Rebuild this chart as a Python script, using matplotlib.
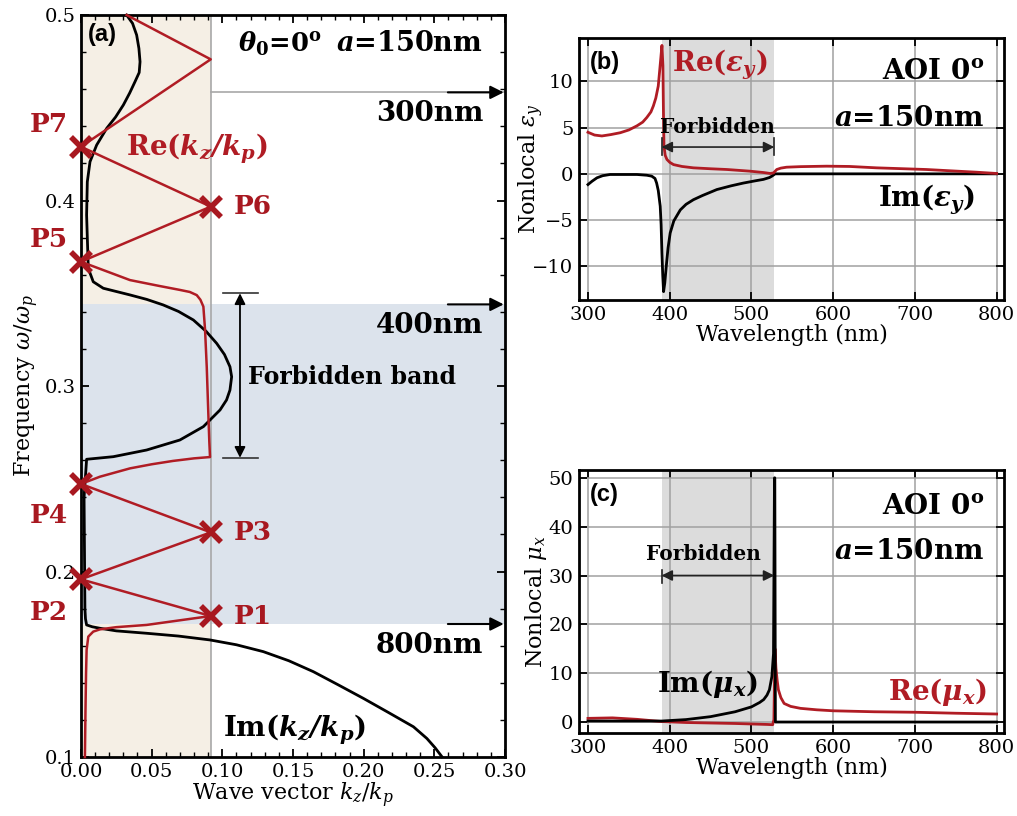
import matplotlib
matplotlib.use('Agg')
import matplotlib.pyplot as plt
from matplotlib.ticker import MultipleLocator

plt.rcParams['font.family'] = ['DejaVu Serif']
plt.rcParams['mathtext.fontset'] = 'dejavuserif'
plt.rcParams['xtick.direction'] = 'in'
plt.rcParams['ytick.direction'] = 'in'
plt.rcParams['xtick.top'] = True
plt.rcParams['ytick.right'] = True
plt.rcParams['axes.linewidth'] = 2.0
plt.rcParams['axes.unicode_minus'] = True

RED = '#b01c24'

# ---- panel (a): band structure ----
re_kz = [0.0028, 0.0032, 0.0036, 0.004, 0.0052, 0.0087, 0.0134, 0.025, 0.0465, 0.07, 0.0918,
         0.0, 0.0918, 0.0,
         0.0134, 0.0347, 0.05, 0.065, 0.08, 0.0913, 0.0908, 0.0901, 0.089, 0.0878, 0.0866,
         0.0845, 0.0819, 0.077, 0.070, 0.055, 0.0347, 0.0,
         0.0918, 0.0, 0.0918, 0.0323]
re_freq = [0.100, 0.125, 0.145, 0.1577, 0.1649, 0.1676, 0.1688, 0.1700, 0.1712, 0.1737, 0.176,
           0.1958, 0.2211, 0.2472,
           0.2511, 0.2556, 0.2578, 0.2596, 0.2610, 0.2617, 0.27, 0.2853, 0.31, 0.3302, 0.3428,
           0.3465, 0.349, 0.3507, 0.3518, 0.354, 0.3571, 0.367,
           0.3967, 0.429, 0.4761, 0.5]

im_kz = [0.2553, 0.2505, 0.2447, 0.2352, 0.2175, 0.1998, 0.182, 0.1644, 0.147, 0.129, 0.110,
         0.0913, 0.069, 0.0465, 0.025, 0.0134, 0.008, 0.004, 0.0032, 0.0028,
         0.0025, 0.0022, 0.004, 0.0229, 0.0465, 0.070, 0.0866, 0.0984, 0.1030, 0.1054, 0.1066,
         0.1054, 0.1015, 0.096, 0.0885, 0.0795, 0.0690, 0.0582, 0.0465, 0.0347, 0.0158, 0.0087,
         0.0052, 0.0045, 0.004,
         0.0045, 0.0064, 0.0111, 0.0182, 0.0245, 0.03, 0.0345, 0.0382, 0.0412, 0.0418, 0.0410,
         0.0394, 0.0365, 0.0323]
im_freq = [0.1002, 0.105, 0.110, 0.1163, 0.124, 0.1316, 0.1389, 0.146, 0.1519, 0.1568, 0.1605,
           0.1631, 0.1652, 0.1667, 0.168, 0.1694, 0.1702, 0.1712, 0.1745, 0.180,
           0.21, 0.24, 0.2605, 0.2619, 0.2655, 0.2709, 0.2781, 0.2871, 0.2925, 0.2978, 0.305,
           0.3104, 0.317, 0.323, 0.3295, 0.3356, 0.3402, 0.3437, 0.3467, 0.3491, 0.3527, 0.3562,
           0.3634, 0.38, 0.3922,
           0.4101, 0.4209, 0.4299, 0.4389, 0.445, 0.4515, 0.458, 0.464, 0.469, 0.4748, 0.482,
           0.4892, 0.4955, 0.5]

p_names = ['P1', 'P2', 'P3', 'P4', 'P5', 'P6', 'P7']
p_kz = [0.0918, 0.0, 0.0918, 0.0, 0.0, 0.0918, 0.0]
p_freq = [0.176, 0.1958, 0.2211, 0.2472, 0.367, 0.3967, 0.429]

bz_edge = 0.0918
band_top = 0.344      # 400 nm
band_bottom = 0.1717  # 800 nm
edge_freq = [0.4583, 0.344, 0.1717]
edge_labels = ['300nm', '400nm', '800nm']
gap_freq = [0.2613, 0.350]

# ---- panel (b): nonlocal epsilon_y ----
wl_eps_re = [300, 308, 317, 328, 339.5, 350, 360, 367, 372, 377, 380, 383, 386, 389, 390.5,
             391.7, 392.3, 393, 394.5, 396.6, 400, 404.7, 415, 429, 450,
             470, 498, 515, 523, 527, 531, 536, 543, 560, 592, 620, 653, 714, 775, 800]
eps_re = [4.5, 4.2, 4.1, 4.25, 4.45, 4.75, 5.2, 5.6, 6.1, 6.7, 7.35, 8.2, 9.5, 12.4, 13.9,
          11.7, 7.0, 3.0, 2.0, 1.56, 1.25, 1.0, 0.8, 0.65, 0.55,
          0.47, 0.29, 0.14, 0.04, 0.1, 0.47, 0.62, 0.72, 0.78, 0.83, 0.8, 0.65, 0.47, 0.18, 0.04]
wl_eps_im = [300, 305, 311, 318, 327, 360, 372, 378, 382, 384, 386, 388.4, 389.5, 390.5, 391.5,
             392.5, 394, 395.8, 398, 400.6, 405, 413, 420, 429, 440,
             457.7, 475, 490, 505, 514.7, 522, 525, 529, 600, 700, 800]
eps_im = [-1.16, -0.8, -0.43, -0.2, -0.07, -0.07, -0.15, -0.25, -0.5, -1.0, -1.8, -3.5, -5.5, -8.6, -11.0,
          -12.75, -11.8, -10.0, -8.0, -6.4, -5.1, -3.9, -3.3, -2.8, -2.35,
          -1.7, -1.3, -1.0, -0.75, -0.6, -0.4, -0.25, 0.0, 0.0, 0.0, 0.0]

# ---- panel (c): nonlocal mu_x ----
wl_mu_re = [300, 330, 360, 390, 420, 480, 520, 526, 527.5, 528.8, 530, 531.5, 533, 536, 540,
            548, 560, 580, 600, 650, 700, 750, 800]
mu_re = [0.75, 0.85, 0.55, 0.1, -0.1, -0.3, -0.5, -0.55, 0.5, 15.0, 11.0, 8.5, 6.6, 5.0, 3.8,
         3.2, 2.8, 2.5, 2.3, 2.1, 2.0, 1.8, 1.64]
wl_mu_im = [300, 390, 420, 450, 480, 500, 510, 515, 519, 522, 525, 527, 528.2, 528.6, 529.3,
            600, 700, 800]
mu_im = [0.2, 0.2, 0.5, 1.1, 2.1, 3.1, 4.0, 4.6, 5.5, 6.6, 9.3, 14.0, 50.0, 50.0, 0.0,
         0.0, 0.0, 0.0]

forbid = [390, 528]


def deco(ax):
    ax.tick_params(which='major', length=6, width=1.3, labelsize=14, pad=4)
    ax.tick_params(which='minor', length=3.5, width=1.0)


fig = plt.figure(figsize=(10.17, 8.16), dpi=100)

# ================= (a) =================
ax = fig.add_axes([0.0796, 0.0723, 0.417, 0.9093])
ax.set_xlim(0, 0.3)
ax.set_ylim(0.1, 0.5)
ax.axvspan(0, bz_edge, color='#f5efe5', zorder=0, lw=0)
ax.axhspan(band_bottom, band_top, color='#dce3ec', zorder=0.5, lw=0)
ax.axvline(bz_edge, color='#a8a8a8', lw=1.2, zorder=1)
ax.plot(im_kz, im_freq, color='k', lw=2, zorder=3, clip_on=False)
ax.plot(re_kz, re_freq, color=RED, lw=1.8, zorder=3, clip_on=False)
ax.plot(p_kz, p_freq, ls='none', marker='x', ms=15, mew=4, color='#a81820', zorder=5, clip_on=False)

p_side = ['r', 'l', 'r', 'l', 'l', 'r', 'l']
p_dy = [0.0, -0.018, 0.0, -0.017, 0.012, 0.0, 0.012]
for name, kz, fr, side, dy in zip(p_names, p_kz, p_freq, p_side, p_dy):
    if side == 'r':
        ax.text(kz + 0.016, fr + dy, name, color='#a81820', fontsize=19, fontweight='bold',
                ha='left', va='center')
    else:
        ax.text(-0.009, fr + dy, name, color='#a81820', fontsize=19, fontweight='bold',
                ha='right', va='center', clip_on=False)

ax.plot([bz_edge, 0.3], [edge_freq[0], edge_freq[0]], color='#a8a8a8', lw=1.2, zorder=2)
for fr, lab in zip(edge_freq, edge_labels):
    ax.annotate('', xy=(0.301, fr), xytext=(0.2576, fr),
                arrowprops=dict(arrowstyle='-|>', color='k', lw=1.5, mutation_scale=20),
                annotation_clip=False, zorder=4)
    ax.text(0.2845, fr - 0.0115, lab, fontsize=20, fontweight='bold', ha='right', va='center')

# forbidden band arrow
ax.plot([0.1005, 0.1253], [gap_freq[1], gap_freq[1]], color='#333333', lw=1.2)
ax.plot([0.1005, 0.1253], [gap_freq[0], gap_freq[0]], color='#333333', lw=1.2)
ax.annotate('', xy=(0.1125, gap_freq[1]), xytext=(0.1125, gap_freq[0]),
            arrowprops=dict(arrowstyle='<|-|>', color='k', lw=1.3, mutation_scale=16,
                            shrinkA=0, shrinkB=0))
ax.text(0.118, 0.305, 'Forbidden band', fontsize=17, fontweight='bold', ha='left', va='center')

ax.text(0.111, 0.4845, r'$\mathbfit{\theta}_{\mathbf{0}}$=0$^{\mathbf{o}}$', fontsize=18.5,
        fontweight='bold', ha='left', va='center')
ax.text(0.2845, 0.4845, r'$\mathbfit{a}$=150nm', fontsize=19.5, fontweight='bold',
        ha='right', va='center')
ax.text(0.032, 0.428, r'Re($\mathbfit{k_z/k_p}$)', color=RED, fontsize=20, fontweight='bold',
        ha='left', va='center')
ax.text(0.1005, 0.1146, r'Im($\mathbfit{k_z/k_p}$)', color='k', fontsize=20, fontweight='bold',
        ha='left', va='center')
ax.text(0.005, 0.4895, '(a)', family='Liberation Sans', fontsize=17, fontweight='bold',
        ha='left', va='center')

ax.xaxis.set_minor_locator(MultipleLocator(0.01))
ax.yaxis.set_minor_locator(MultipleLocator(0.02))
ax.set_xticks([0, 0.05, 0.10, 0.15, 0.20, 0.25, 0.30])
ax.set_xticklabels(['0.00', '0.05', '0.10', '0.15', '0.20', '0.25', '0.30'])
ax.set_yticks([0.1, 0.2, 0.3, 0.4, 0.5])
ax.set_yticklabels(['0.1', '0.2', '0.3', '0.4', '0.5'])
deco(ax)
ax.set_xlabel(r'Wave vector $k_z/k_p$', fontsize=16, labelpad=0)
ax.set_ylabel(r'Frequency $\omega/\omega_p$', fontsize=16, labelpad=2)

# ================= (b) =================
bx = fig.add_axes([0.5693, 0.6324, 0.4179, 0.321])
bx.set_xlim(289, 809)
bx.set_ylim(-13.65, 14.7)
bx.axvspan(forbid[0], forbid[1], color='#dcdcdc', lw=0, zorder=0)
bx.grid(True, color='#a0a0a0', lw=1.1)
bx.set_axisbelow(True)
bx.plot(wl_eps_im, eps_im, color='k', lw=2, zorder=3)
bx.plot(wl_eps_re, eps_re, color=RED, lw=2, zorder=3)
bx.set_xticks([300, 400, 500, 600, 700, 800])
bx.set_yticks([-10, -5, 0, 5, 10])
deco(bx)
bx.set_xlabel('Wavelength (nm)', fontsize=16, labelpad=0)
bx.set_ylabel(r'Nonlocal $\varepsilon_y$', fontsize=16, labelpad=-10)
bx.annotate('', xy=(forbid[1], 2.9), xytext=(forbid[0], 2.9),
            arrowprops=dict(arrowstyle='<|-|>', color='#222222', lw=1.2, mutation_scale=16,
                            shrinkA=0, shrinkB=0), zorder=4)
bx.plot([forbid[0], forbid[0]], [2.0, 3.9], color='#222222', lw=1.2, zorder=4)
bx.plot([forbid[1], forbid[1]], [2.0, 3.9], color='#222222', lw=1.2, zorder=4)
bx.text(459, 5.1, 'Forbidden', fontsize=14.5, fontweight='bold', ha='center', va='center', zorder=5)
bx.text(403, 11.8, r'Re($\mathbfit{\varepsilon_y}$)', color=RED, fontsize=20, fontweight='bold',
        ha='left', va='center')
bx.text(785, 11.05, r'AOI 0$^{\mathbf{o}}$', fontsize=20, fontweight='bold', ha='right', va='center')
bx.text(785, 5.96, r'$\mathbfit{a}$=150nm', fontsize=20, fontweight='bold', ha='right', va='center')
bx.text(773, -2.8, r'Im($\mathbfit{\varepsilon_y}$)', fontsize=20, fontweight='bold',
        ha='right', va='center')
bx.text(302, 12.0, '(b)', family='Liberation Sans', fontsize=17, fontweight='bold',
        ha='left', va='center')

# ================= (c) =================
cx = fig.add_axes([0.5693, 0.1017, 0.4179, 0.3223])
cx.set_xlim(289, 809)
cx.set_ylim(-2.25, 51.6)
cx.axvspan(forbid[0], forbid[1], color='#dcdcdc', lw=0, zorder=0)
cx.grid(True, color='#a0a0a0', lw=1.1)
cx.set_axisbelow(True)
cx.plot(wl_mu_re, mu_re, color=RED, lw=2, zorder=3)
cx.plot(wl_mu_im, mu_im, color='k', lw=2, zorder=3)
cx.set_xticks([300, 400, 500, 600, 700, 800])
cx.set_yticks([0, 10, 20, 30, 40, 50])
deco(cx)
cx.set_xlabel('Wavelength (nm)', fontsize=16, labelpad=0)
cx.set_ylabel(r'Nonlocal $\mu_x$', fontsize=16, labelpad=0)
cx.annotate('', xy=(forbid[1], 30.0), xytext=(forbid[0], 30.0),
            arrowprops=dict(arrowstyle='<|-|>', color='#222222', lw=1.2, mutation_scale=16,
                            shrinkA=0, shrinkB=0), zorder=4)
cx.plot([forbid[0], forbid[0]], [28.5, 31.1], color='#222222', lw=1.2, zorder=4)
cx.text(441, 34.4, 'Forbidden', fontsize=14.5, fontweight='bold', ha='center', va='center', zorder=5)
cx.text(384, 7.8, r'Im($\mathbfit{\mu_x}$)', fontsize=20, fontweight='bold', ha='left', va='center')
cx.text(788, 6.2, r'Re($\mathbfit{\mu_x}$)', color=RED, fontsize=20, fontweight='bold',
        ha='right', va='center')
cx.text(785, 44.1, r'AOI 0$^{\mathbf{o}}$', fontsize=20, fontweight='bold', ha='right', va='center')
cx.text(785, 34.9, r'$\mathbfit{a}$=150nm', fontsize=20, fontweight='bold', ha='right', va='center')
cx.text(302, 46.5, '(c)', family='Liberation Sans', fontsize=17, fontweight='bold',
        ha='left', va='center')

fig.savefig('out.png', dpi=100)
